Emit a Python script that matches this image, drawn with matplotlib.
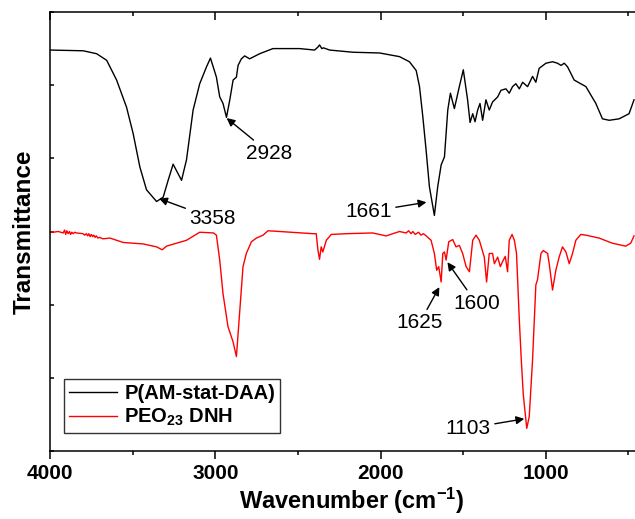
import matplotlib
matplotlib.use("Agg")
import matplotlib.pyplot as plt
from matplotlib.ticker import MultipleLocator, NullFormatter

plt.rcParams['font.family'] = ['Liberation Sans', 'DejaVu Sans']
plt.rcParams['mathtext.default'] = 'regular'

# P(AM-stat-DAA) spectrum (wavenumber, transmittance a.u.)
wn_black = [4000, 3799, 3718, 3657, 3597, 3537, 3497, 3456, 3416, 3355, 3315, 3285, 3255, 3225,
            3204, 3174, 3134, 3094, 3053, 3029, 2993, 2973, 2953, 2932, 2912, 2892, 2872, 2862,
            2842, 2822, 2792, 2731, 2651, 2490, 2399, 2379, 2369, 2355, 2345, 2308, 2167, 2006,
            1885, 1825, 1784, 1764, 1744, 1724, 1704, 1674, 1654, 1633, 1613, 1593, 1577, 1553,
            1523, 1499, 1473, 1458, 1442, 1428, 1412, 1398, 1382, 1372, 1362, 1342, 1322, 1291,
            1271, 1241, 1221, 1201, 1181, 1160, 1140, 1110, 1080, 1060, 1040, 999, 959, 929,
            908, 888, 868, 828, 757, 697, 657, 616, 556, 496, 466]
tr_black = [5.48, 5.47, 5.43, 5.34, 5.07, 4.70, 4.34, 3.88, 3.57, 3.41, 3.47, 3.70, 3.92, 3.79,
            3.70, 3.98, 4.66, 5.02, 5.25, 5.37, 5.11, 4.84, 4.75, 4.56, 4.80, 5.07, 5.11, 5.27,
            5.36, 5.40, 5.36, 5.43, 5.50, 5.50, 5.48, 5.52, 5.55, 5.50, 5.51, 5.48, 5.45, 5.44,
            5.39, 5.32, 5.20, 4.98, 4.57, 4.11, 3.61, 3.22, 3.61, 3.91, 4.02, 4.66, 4.89, 4.68,
            4.98, 5.21, 4.80, 4.49, 4.61, 4.50, 4.66, 4.75, 4.52, 4.66, 4.80, 4.66, 4.77, 4.84,
            4.93, 4.95, 4.89, 4.98, 5.02, 4.95, 5.04, 4.98, 5.12, 5.04, 5.23, 5.30, 5.32, 5.30,
            5.27, 5.30, 5.25, 5.07, 4.98, 4.75, 4.54, 4.52, 4.54, 4.61, 4.80]

# PEO23 DNH spectrum
wn_red = [4000, 3980, 3950, 3920, 3912, 3905, 3898, 3890, 3882, 3875, 3868, 3860, 3850, 3840,
          3800, 3790, 3780, 3772, 3765, 3757, 3750, 3742, 3735, 3727, 3720, 3710, 3700, 3680,
          3637, 3557, 3436, 3355, 3321, 3295, 3174, 3094, 3010, 2993, 2973, 2953, 2923, 2892,
          2872, 2856, 2842, 2832, 2812, 2781, 2751, 2711, 2681, 2610, 2409, 2389, 2379, 2369,
          2359, 2349, 2328, 2298, 2207, 2047, 1966, 1885, 1845, 1830, 1815, 1805, 1790, 1770,
          1755, 1740, 1724, 1694, 1674, 1660, 1648, 1633, 1623, 1613, 1603, 1587, 1563, 1543,
          1523, 1503, 1482, 1462, 1442, 1422, 1402, 1372, 1358, 1342, 1322, 1311, 1291, 1275,
          1261, 1245, 1231, 1221, 1204, 1190, 1177, 1160, 1148, 1136, 1115, 1100, 1080, 1060,
          1050, 1029, 1015, 989, 979, 959, 939, 919, 899, 878, 858, 838, 818, 788, 757, 677,
          597, 516, 486, 466]
tr_red = [3.00, 2.99, 3.00, 2.98, 3.02, 2.96, 3.01, 2.97, 3.00, 2.96, 2.99, 2.97, 2.99, 2.98,
          2.97, 2.95, 2.97, 2.94, 2.97, 2.93, 2.96, 2.93, 2.95, 2.92, 2.94, 2.91, 2.92, 2.90,
          2.91, 2.85, 2.83, 2.79, 2.75, 2.80, 2.88, 2.99, 2.98, 2.95, 2.61, 2.15, 1.70, 1.49,
          1.29, 1.79, 2.24, 2.52, 2.70, 2.86, 2.91, 2.95, 3.01, 3.00, 2.97, 2.97, 2.75, 2.62,
          2.79, 2.72, 2.88, 2.96, 2.97, 2.98, 2.94, 3.00, 2.98, 3.01, 2.97, 3.00, 2.96, 2.99,
          2.95, 2.97, 2.94, 2.88, 2.70, 2.47, 2.52, 2.31, 2.70, 2.72, 2.61, 2.86, 2.89, 2.79,
          2.81, 2.70, 2.52, 2.45, 2.88, 2.95, 2.88, 2.65, 2.31, 2.70, 2.70, 2.56, 2.65, 2.52,
          2.59, 2.66, 2.45, 2.88, 2.96, 2.88, 2.70, 1.79, 1.24, 0.77, 0.31, 0.47, 1.24, 2.27,
          2.34, 2.70, 2.74, 2.70, 2.56, 2.20, 2.47, 2.65, 2.79, 2.72, 2.56, 2.70, 2.88, 2.96,
          2.95, 2.91, 2.84, 2.80, 2.84, 2.94]

labels = ["P(AM-stat-DAA)", "PEO$_{23}$ DNH"]

# peak annotations: label, tip (wn, tr), text (wn, tr)
ann_text = ["3358", "2928", "1661", "1625", "1600", "1103"]
ann_tip = [(3340, 3.45), (2931, 4.55), (1722, 3.40), (1644, 2.24), (1595, 2.58), (1130, 0.44)]
ann_pos = [(3015, 3.18), (2671, 4.07), (2073, 3.27), (1764, 1.75), (1420, 2.02), (1470, 0.31)]

fig = plt.figure(figsize=(6.35, 5.19), dpi=100)
ax = fig.add_axes([50/635, 1-451/519, 585/635, 439/519])

ax.plot(wn_black, tr_black, color='black', lw=1.0, label=labels[0])
ax.plot(wn_red, tr_red, color='red', lw=1.0, label=labels[1])

for t, tip, pos in zip(ann_text, ann_tip, ann_pos):
    ax.annotate(t, xy=tip, xytext=pos, ha='center', va='center', fontsize=15,
                arrowprops=dict(arrowstyle='-|>', color='black', lw=1.0,
                                mutation_scale=12, shrinkA=1, shrinkB=0))

ax.set_xlim(4000, 460)
ax.set_ylim(0, 6)
ax.xaxis.set_major_locator(MultipleLocator(1000))
ax.xaxis.set_minor_locator(MultipleLocator(500))
ax.yaxis.set_major_locator(MultipleLocator(1))
ax.yaxis.set_major_formatter(NullFormatter())

for s in ['left', 'top', 'bottom']:
    ax.spines[s].set_linewidth(1.1)
ax.spines['right'].set_visible(False)

ax.tick_params(axis='x', which='major', direction='out', length=5.5, width=1.1,
               labelsize=15, pad=4, top=True)
ax.tick_params(axis='x', which='minor', direction='out', length=3, width=1.1, top=True)
ax.tick_params(axis='y', which='major', direction='in', length=3, width=1.1)
for lab in ax.get_xticklabels():
    lab.set_fontweight('bold')
# top ticks point inward
for tk in ax.xaxis.get_major_ticks() + ax.xaxis.get_minor_ticks():
    tk.tick2line.set_marker(matplotlib.lines.TICKDOWN)

ax.set_xlabel("Wavenumber (cm$^{-1}$)", fontsize=17, fontweight='bold')
ax.xaxis.set_label_coords(0.516, -0.08)
ax.set_ylabel("Transmittance", fontsize=17.5, fontweight='bold')
ax.yaxis.set_label_coords(-0.025, 0.5)

leg = ax.legend(loc='lower left', bbox_to_anchor=(0.024, 0.041), borderaxespad=0,
                prop={'weight': 'bold', 'size': 14.5}, frameon=True, fancybox=False,
                edgecolor='black', handlelength=2.4, handletextpad=0.35,
                labelspacing=0.2, borderpad=0.25)
leg.get_frame().set_linewidth(1.0)

fig.savefig("out.png", dpi=100)
